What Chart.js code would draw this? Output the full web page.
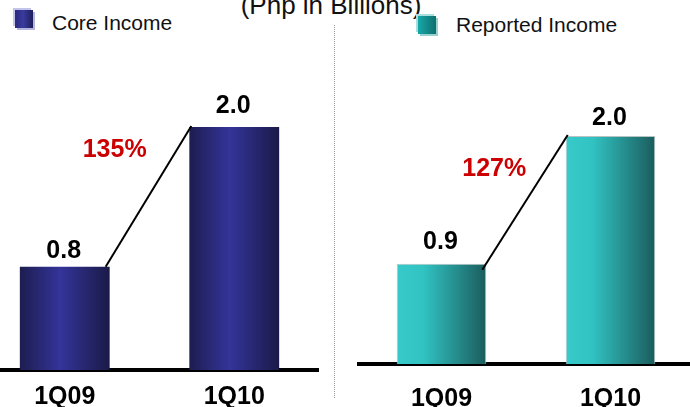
<!DOCTYPE html>
<html>
<head>
<meta charset="utf-8">
<script src="https://cdn.jsdelivr.net/npm/chart.js@4/dist/chart.umd.min.js"></script>
<style>
    body { margin: 0; background: #fff; width: 690px; height: 407px; overflow: hidden; position: relative; font-family: Arial, 'Liberation Sans', sans-serif; }
    .title { position: absolute; left: 0; top: -8px; width: 662px; text-align: center; font-size: 26px; line-height: 26px; color: #111; }
    .legend { position: absolute; font-size: 21px; line-height: 21px; color: #111; }
    .icon { position: absolute; width: 18px; height: 18px; }
    .icon.core { left: 15px; top: 10px; background: linear-gradient(90deg, #2a2a7a, #3a3aa0 45%, #1e1e5a); box-shadow: -2px -2px 0 0 #c4c4ea, 2px 2px 0 0 #b4b4dc; }
    .icon.reported { left: 418px; top: 16px; background: linear-gradient(90deg, #18a8a8, #0e6e6e); box-shadow: -2px -2px 0 0 #a8dede, 2px 2px 0 0 #98d0d0; }
    .sep { position: absolute; left: 334px; top: 25px; height: 373px; border-left: 1px dotted #999; }
    canvas { position: absolute; top: 0; }
</style>
</head>
<body>
<div class="title">(Php in Billions)</div>
<div class="icon core"></div>
<div class="legend" style="left:52px; top:12px;">Core Income</div>
<div class="icon reported"></div>
<div class="legend" style="left:456px; top:14px;">Reported Income</div>
<div class="sep"></div>
<canvas id="coreChart" width="339" height="407" style="left:-20px;"></canvas>
<canvas id="reportedChart" width="338" height="407" style="left:357px;"></canvas>
<script>
const quarters = ['1Q09', '1Q10'];
const coreValues = [0.85, 2.0];
const coreLabels = ['0.8', '2.0'];
const coreGrowth = '135%';
const reportedValues = [0.88, 2.0];
const reportedLabels = ['0.9', '2.0'];
const reportedGrowth = '127%';

const FONT = "Arial, 'Liberation Sans', sans-serif";
const BAR_PCT = 0.53;

function barGradient(stops) {
    return ctx => {
        const chart = ctx.chart;
        const xs = chart.scales.x;
        if (!xs || ctx.dataIndex === undefined) return stops[0][1];
        const cx = xs.getPixelForValue(ctx.dataIndex);
        const half = xs.width / quarters.length * BAR_PCT / 2;
        if (!Number.isFinite(cx) || !Number.isFinite(half)) return stops[0][1];
        const g = chart.ctx.createLinearGradient(cx - half, 0, cx + half, 0);
        stops.forEach(([pos, color]) => g.addColorStop(pos, color));
        return g;
    };
}

// value labels, connector line and growth figure
const annotatePlugin = {
    id: 'annotate',
    afterDatasetsDraw(chart, args, opts) {
        const ctx = chart.ctx;
        const bars = chart.getDatasetMeta(0).data;
        if (bars.length < 2) return;
        const [b1, b2] = bars;
        const r1 = b1.x + b1.width / 2;
        const l2 = b2.x - b2.width / 2;

        ctx.save();
        ctx.strokeStyle = '#000';
        ctx.lineWidth = 2;
        ctx.beginPath();
        ctx.moveTo(r1 - 4, b1.y + opts.lineStart);
        ctx.lineTo(l2 + 2, b2.y - 1);
        ctx.stroke();

        ctx.font = `bold 25px ${FONT}`;
        ctx.textAlign = 'center';
        ctx.textBaseline = 'alphabetic';
        ctx.fillStyle = '#000';
        bars.forEach((bar, i) => {
            ctx.fillText(opts.labels[i], bar.x - 1, bar.y - opts.gaps[i]);
        });

        ctx.fillStyle = '#cc0000';
        ctx.fillText(opts.growth, r1 + opts.growthDx, b2.y + opts.growthDy);
        ctx.restore();
    }
};

function makeChart(id, values, labels, growth, cfg) {
    return new Chart(document.getElementById(id), {
        type: 'bar',
        data: {
            labels: quarters,
            datasets: [{
                data: values,
                backgroundColor: barGradient(cfg.stops),
                borderColor: cfg.borderColor,
                borderWidth: cfg.borderWidth,
                barPercentage: BAR_PCT,
                categoryPercentage: 1
            }]
        },
        options: {
            responsive: false,
            animation: false,
            layout: { padding: { top: cfg.padTop, left: 0, right: 0, bottom: 0 } },
            plugins: {
                legend: { display: false },
                tooltip: { enabled: false },
                annotate: {
                    labels,
                    growth,
                    gaps: cfg.gaps,
                    lineStart: cfg.lineStart,
                    growthDx: cfg.growthDx,
                    growthDy: cfg.growthDy
                }
            },
            scales: {
                x: {
                    grid: { display: false, drawTicks: false },
                    border: { display: true, color: '#000', width: 4 },
                    ticks: {
                        color: '#000',
                        padding: cfg.tickPad,
                        font: { family: FONT, size: 25, weight: 'bold' }
                    },
                    afterFit(scale) { scale.height = cfg.axisHeight; }
                },
                y: { display: false, min: 0, max: cfg.max }
            }
        },
        plugins: [annotatePlugin]
    });
}

makeChart('coreChart', coreValues, coreLabels, coreGrowth, {
    stops: [[0, '#1d1d50'], [0.45, '#34349a'], [1, '#1a1a48']],
    borderColor: 'rgba(0,0,0,0)',
    borderWidth: 0,
    padTop: 5.5,
    max: 3.0,
    axisHeight: 37,
    tickPad: 12,
    gaps: [9, 14],
    lineStart: 0,
    growthDx: 5,
    growthDy: 30
});

makeChart('reportedChart', reportedValues, reportedLabels, reportedGrowth, {
    stops: [[0, '#38caca'], [0.3, '#31c2c2'], [1, '#1b5c5c']],
    borderColor: '#b8c4c4',
    borderWidth: 1,
    padTop: 10.6,
    max: 3.1,
    axisHeight: 43,
    tickPad: 20,
    gaps: [15, 11],
    lineStart: 6,
    growthDx: 8,
    growthDy: 40
});
</script>
</body>
</html>
